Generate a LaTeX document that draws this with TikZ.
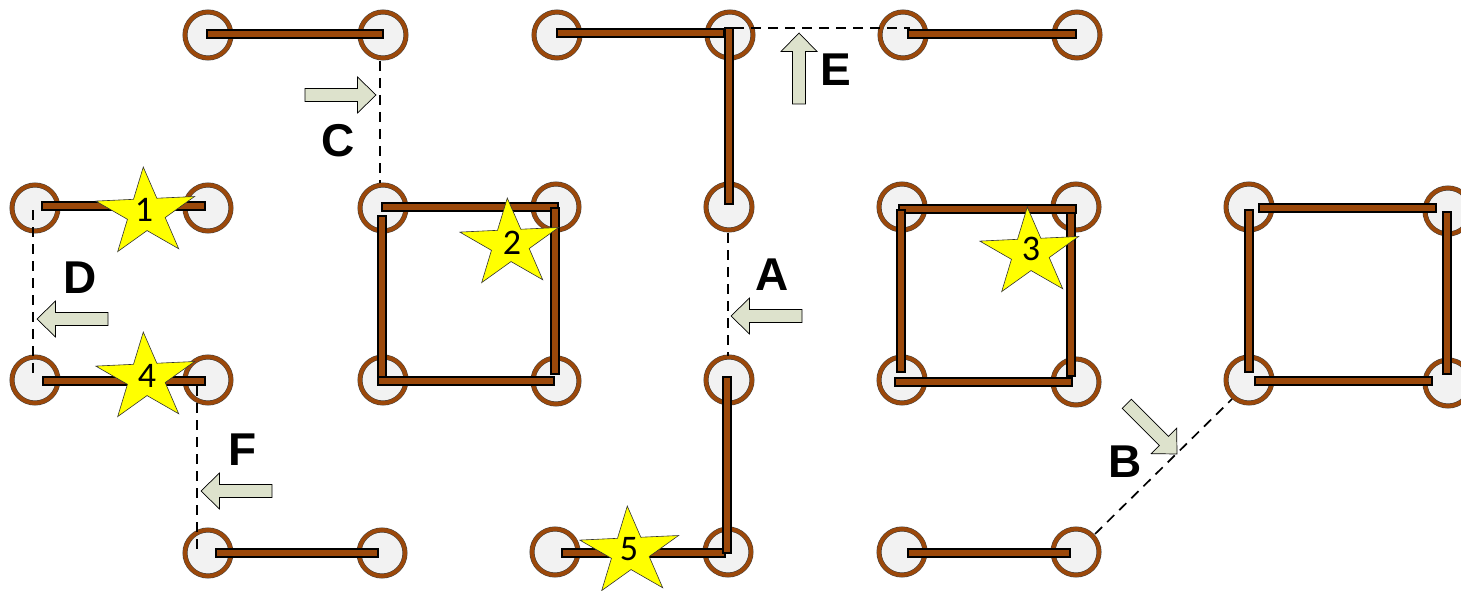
\documentclass[tikz,border=0pt]{standalone}
\usepackage{fontspec}
\setmainfont{Liberation Sans}
\newfontfamily\numfont{Carlito}
\definecolor{brn}{RGB}{155,72,10}
\definecolor{pingray}{RGB}{242,242,242}
\definecolor{arrowfill}{RGB}{221,226,204}
\definecolor{staryel}{RGB}{255,255,0}
\tikzset{
 pin/.style={circle, minimum size=46pt, inner sep=0pt, outer sep=0pt, fill=pingray, draw=black!75, line width=0.5pt, double=brn, double distance=4pt},
 bar/.style={fill=brn, draw=black, line width=1.2pt},
 conn/.style={draw=black, line width=1.7pt, dash pattern=on 10pt off 7pt},
 garrow/.style={fill=arrowfill, draw=black, line width=0.7pt},
 starsh/.style={fill=staryel, draw=black!80, line width=0.6pt},
 letter/.style={font=\bfseries\fontsize{46}{50}\selectfont, inner sep=0pt},
 num/.style={font=\numfont\fontsize{36}{40}\selectfont, inner sep=0pt},
}
\newcommand\hb[3]{\draw[bar] (#1,#3-4) rectangle (#2,#3+4);}
\newcommand\vb[3]{\draw[bar] (#1-4,#2) rectangle (#1+4,#3);}
\newcommand\drawstar[2]{%
 \begin{scope}[shift={(#1,#2)}, xscale=1.13, rotate=3]
  \draw[starsh] (-90:46) -- (-54:17.6) -- (-18:46) -- (18:17.6) -- (54:46) -- (90:17.6) -- (126:46) -- (162:17.6) -- (198:46) -- (234:17.6) -- cycle;
 \end{scope}}
\newcommand\garr[3]{%
 \begin{scope}[shift={(#1,#2)}, rotate=#3]
  \draw[garrow] (0,0) -- (-18.5,18) -- (-18.5,6.5) -- (-71,6.5) -- (-71,-6.5) -- (-18.5,-6.5) -- (-18.5,-18) -- cycle;
 \end{scope}}
\begin{document}
\begin{tikzpicture}[x=1pt,y=-1pt]
\useasboundingbox (0,0) rectangle (1461,591);
% pins
\node[pin] (t1) at (208,35) {};
\node[pin] (t2) at (383,35) {};
\node[pin] (t3) at (557,35) {};
\node[pin] (t4) at (730,35) {};
\node[pin] (t5) at (903,35) {};
\node[pin] (t6) at (1077,35) {};
\node[pin] (a1) at (35,208) {};
\node[pin] (a2) at (208,208) {};
\node[pin] (a3) at (383,208) {};
\node[pin] (a4) at (556,207) {};
\node[pin] (a5) at (729,207) {};
\node[pin] (a6) at (902,207) {};
\node[pin] (a7) at (1076,207) {};
\node[pin] (a8) at (1249,207) {};
\node[pin] (a9) at (1448,211) {};
\node[pin] (b1) at (35,380) {};
\node[pin] (b2) at (208,380) {};
\node[pin] (b3) at (383,380) {};
\node[pin] (b4) at (556,381) {};
\node[pin] (b5) at (729,380) {};
\node[pin] (b6) at (902,380) {};
\node[pin] (b7) at (1076,382) {};
\node[pin] (b8) at (1249,380) {};
\node[pin] (b9) at (1448,383) {};
\node[pin] (d1) at (208,553) {};
\node[pin] (d2) at (382,553) {};
\node[pin] (d3) at (555,552) {};
\node[pin] (d4) at (728,552) {};
\node[pin] (d5) at (902,552) {};
\node[pin] (d6) at (1076,552) {};
% bars
\hb{207}{383}{34}
\hb{557}{724}{33}
\vb{729}{28}{204}
\hb{908}{1076}{34}
\hb{42}{205}{206}
\hb{382}{558}{207}
\vb{382}{216}{380}
\vb{555}{208}{374}
\hb{378}{554}{381}
\hb{899}{1076}{209}
\vb{901}{210}{372}
\vb{1071}{213}{376}
\hb{895}{1072}{382}
\hb{1259}{1436}{208}
\vb{1249}{210}{372}
\vb{1447}{212}{374}
\hb{1255}{1432}{381}
\hb{43}{205}{381}
\hb{216}{378}{553}
\hb{562}{725}{553}
\vb{727}{377}{553}
\hb{908}{1070}{553}
% dashed connectors
\coordinate (cC1) at (380,61);
\coordinate (cC2) at (380,183);
\coordinate (cD1) at (33,210);
\coordinate (cD2) at (33,380);
\coordinate (cE1) at (734,28);
\coordinate (cE2) at (910,28);
\coordinate (cA1) at (728,233);
\coordinate (cA2) at (728,356);
\coordinate (cF1) at (197,386);
\coordinate (cF2) at (197,552);
\coordinate (cB1) at (1095,534);
\coordinate (cB2) at (1232,399);
\draw[conn] (cC1) -- (cC2);
\draw[conn] (cD1) -- (cD2);
\draw[conn] (cE1) -- (cE2);
\draw[conn] (cA1) -- (cA2);
\draw[conn] (cF1) -- (cF2);
\draw[conn] (cB1) -- (cB2);
% stars
\drawstar{146}{213}
\node[num] (n1) at (144,210) {1};
\drawstar{146}{378}
\node[num] (n4) at (147,376) {4};
\drawstar{510}{244}
\node[num] (n2) at (512,243) {2};
\drawstar{1030}{253}
\node[num] (n3) at (1031,249) {3};
\drawstar{630}{552}
\node[num] (n5) at (629,549) {5};
% grey arrows
\garr{376}{95}{0}
\garr{37}{319}{180}
\garr{201}{491}{180}
\garr{731}{316}{180}
\garr{799}{33}{90}
\garr{1177}{454}{-45}
% letters
\node[letter] (lA) at (772,275) {A};
\node[letter] (lB) at (1125,462) {B};
\node[letter] (lC) at (338,141) {C};
\node[letter] (lD) at (80,278) {D};
\node[letter] (lE) at (836,70) {E};
\node[letter] (lF) at (243,450) {F};
\end{tikzpicture}
\end{document}
